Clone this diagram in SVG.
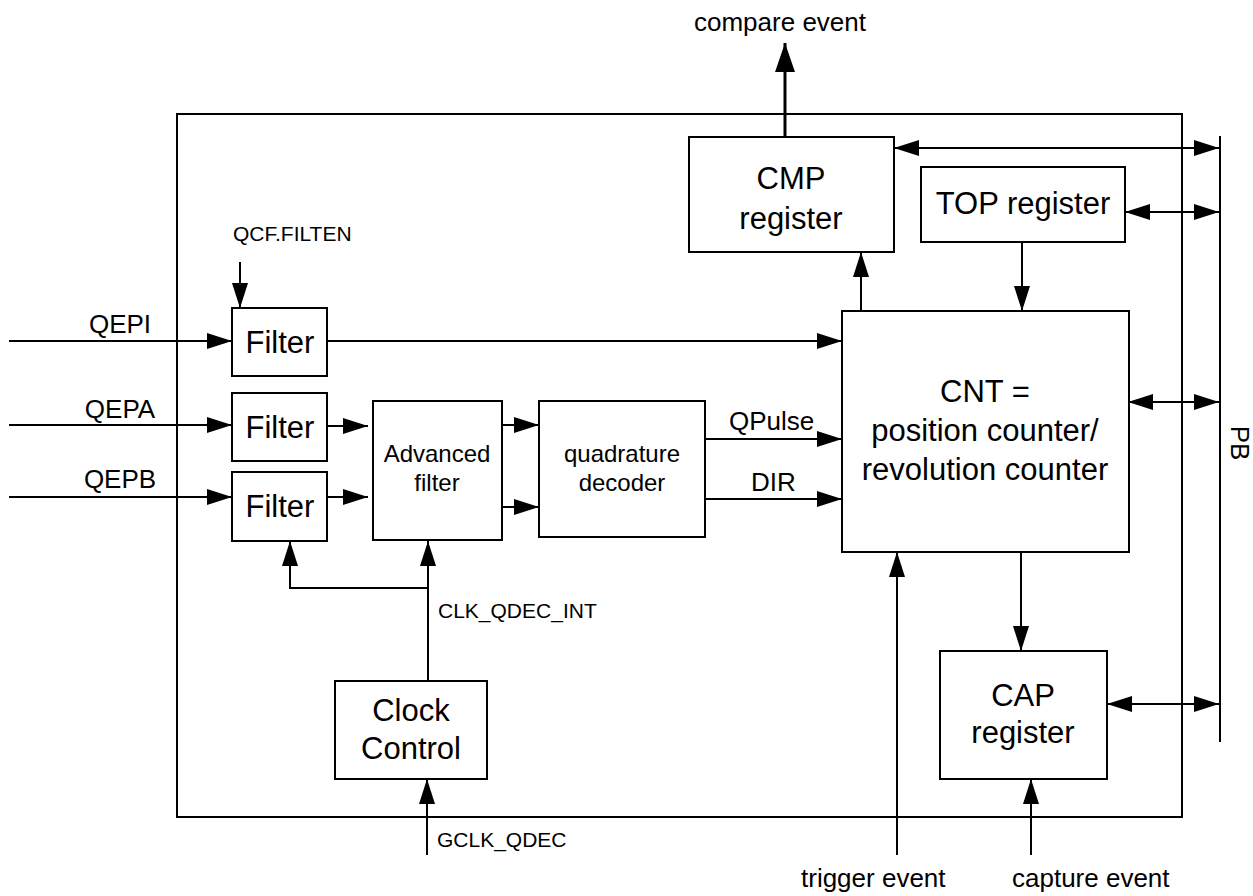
<svg xmlns="http://www.w3.org/2000/svg" width="1253" height="896" viewBox="0 0 1253 896">
<style>
text{font-family:"Liberation Sans",Arial,sans-serif;fill:#000}
.box{fill:#fff;stroke:#000;stroke-width:2}
.n{font-size:31px;text-anchor:middle}
.m{font-size:24px;text-anchor:middle}
.l{font-size:26px}
.s{font-size:21px}
.c line,.c path{stroke:#000;stroke-width:2;fill:none}
</style>
<defs>
<marker id="a" markerUnits="userSpaceOnUse" markerWidth="25" markerHeight="16" refX="25" refY="8" orient="auto-start-reverse"><path d="M0,0L25,8L0,16z" fill="#000"/></marker>
<marker id="b" markerUnits="userSpaceOnUse" markerWidth="29" markerHeight="20" refX="29" refY="10" orient="auto"><path d="M0,0L29,10L0,20z" fill="#000"/></marker>
</defs>
<rect x="0" y="0" width="1253" height="896" fill="#fff"/>
<g id="outer"><rect x="177" y="114" width="1005" height="703" fill="none" stroke="#000" stroke-width="2"/></g>
<g id="bus"><line x1="1220" y1="136" x2="1220" y2="742" stroke="#000" stroke-width="2"/><text class="l" transform="translate(1231,443) rotate(90)" text-anchor="middle">PB</text></g>
<g class="c" id="connectors">
<line x1="785" y1="137" x2="785" y2="43" style="stroke-width:3" marker-end="url(#b)"/>
<line x1="894" y1="148" x2="1219" y2="148" marker-start="url(#a)" marker-end="url(#a)"/>
<line x1="1125" y1="212" x2="1219" y2="212" marker-start="url(#a)" marker-end="url(#a)"/>
<line x1="1022" y1="242" x2="1022" y2="311" marker-end="url(#a)"/>
<line x1="861" y1="311" x2="861" y2="252" marker-end="url(#a)"/>
<line x1="1128" y1="402" x2="1219" y2="402" marker-start="url(#a)" marker-end="url(#a)"/>
<line x1="1021" y1="552" x2="1021" y2="651" marker-end="url(#a)"/>
<line x1="1107" y1="704" x2="1219" y2="704" marker-start="url(#a)" marker-end="url(#a)"/>
<line x1="1031" y1="855" x2="1031" y2="779" marker-end="url(#a)"/>
<line x1="897" y1="855" x2="897" y2="552" marker-end="url(#a)"/>
<line x1="9" y1="341" x2="232" y2="341" marker-end="url(#a)"/>
<line x1="240" y1="262" x2="240" y2="308" marker-end="url(#a)"/>
<line x1="327" y1="341" x2="842" y2="341" marker-end="url(#a)"/>
<line x1="9" y1="425" x2="232" y2="425" marker-end="url(#a)"/>
<line x1="9" y1="497" x2="232" y2="497" marker-end="url(#a)"/>
<line x1="327" y1="426" x2="368" y2="426" marker-end="url(#a)"/>
<line x1="327" y1="497" x2="368" y2="497" marker-end="url(#a)"/>
<line x1="502" y1="425" x2="539" y2="425" marker-end="url(#a)"/>
<line x1="502" y1="507" x2="539" y2="507" marker-end="url(#a)"/>
<line x1="705" y1="439" x2="842" y2="439" marker-end="url(#a)"/>
<line x1="705" y1="499" x2="842" y2="499" marker-end="url(#a)"/>
<line x1="428" y1="681" x2="428" y2="541" marker-end="url(#a)"/>
<path d="M428,588H290V541" marker-end="url(#a)"/>
<line x1="427" y1="855" x2="427" y2="779" marker-end="url(#a)"/>
</g>
<g id="labels">
<text class="l" x="780" y="31" text-anchor="middle">compare event</text>
<text class="l" x="120" y="333" text-anchor="middle">QEPI</text>
<text class="l" x="120" y="418" text-anchor="middle">QEPA</text>
<text class="l" x="120" y="488" text-anchor="middle">QEPB</text>
<text class="s" x="233" y="241">QCF.FILTEN</text>
<text class="l" x="729" y="430">QPulse</text>
<text class="l" x="751" y="491">DIR</text>
<text class="s" x="438" y="618">CLK_QDEC_INT</text>
<text class="s" x="437" y="847">GCLK_QDEC</text>
<text class="l" x="801" y="887">trigger event</text>
<text class="l" x="1012" y="887">capture event</text>
</g>
<g id="cmp"><rect class="box" x="689" y="137" width="205" height="115"/><text class="n" x="791" y="189">CMP</text><text class="n" x="791" y="229">register</text></g>
<g id="top"><rect class="box" x="921" y="167" width="204" height="75"/><text class="n" x="1023" y="214">TOP register</text></g>
<g id="cnt"><rect class="box" x="842" y="311" width="287" height="241"/><text class="n" x="985" y="402">CNT =</text><text class="n" x="985" y="441">position counter/</text><text class="n" x="985" y="480">revolution counter</text></g>
<g id="cap"><rect class="box" x="940" y="651" width="167" height="128"/><text class="n" x="1023" y="706">CAP</text><text class="n" x="1023" y="743">register</text></g>
<g id="filter1"><rect class="box" x="232" y="308" width="95" height="68"/><text class="n" x="280" y="353">Filter</text></g>
<g id="filter2"><rect class="box" x="232" y="393" width="95" height="68"/><text class="n" x="280" y="438">Filter</text></g>
<g id="filter3"><rect class="box" x="232" y="472" width="95" height="69"/><text class="n" x="280" y="517">Filter</text></g>
<g id="adv"><rect class="box" x="373" y="401" width="129" height="139"/><text class="m" x="437" y="462">Advanced</text><text class="m" x="437" y="491">filter</text></g>
<g id="quad"><rect class="box" x="539" y="401" width="166" height="136"/><text class="m" x="622" y="462">quadrature</text><text class="m" x="622" y="491">decoder</text></g>
<g id="clock"><rect class="box" x="335" y="681" width="152" height="98"/><text class="n" x="411" y="721">Clock</text><text class="n" x="411" y="759">Control</text></g>
</svg>
